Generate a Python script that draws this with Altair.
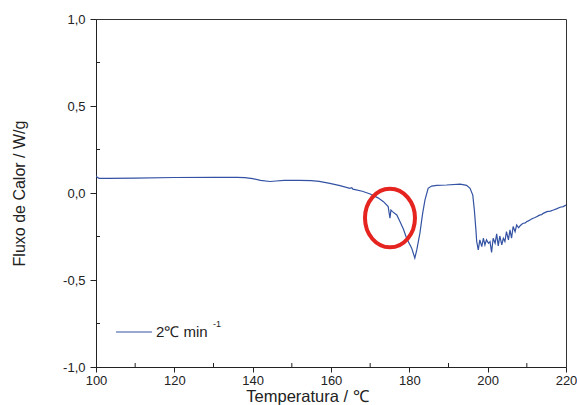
import altair as alt
import pandas as pd

# DSC curve
temperatura = [
    100.0, 100.3, 100.8, 103.0, 110.0, 120.0, 130.0, 136.0, 138.0, 140.0,
    142.0, 144.4, 146.0, 148.0, 152.0, 155.0, 157.0, 159.7, 162.3, 164.8,
    165.3, 165.6, 168.0, 170.0, 172.0, 173.4, 174.6, 175.05, 175.3, 175.7,
    176.8, 177.6, 178.5, 179.3, 180.6, 181.4, 181.9, 182.7, 183.4, 184.0,
    184.8, 185.7, 187.0, 189.5, 193.0, 194.6, 195.5, 196.2, 196.6, 197.0,
    197.2, 197.6, 198.0, 198.5, 198.9, 199.3, 199.7, 200.2, 200.6, 201.0,
    201.4, 201.9, 202.3, 202.7, 203.1, 203.6, 204.0, 204.4, 204.8, 205.3,
    205.7, 206.1, 206.5, 207.0, 207.4, 207.9, 208.3, 208.7, 209.1, 209.6,
    210.0, 210.4, 210.8, 211.2, 211.6, 212.1, 212.5, 213.0, 213.4, 213.8,
    214.2, 215.1, 216.0, 216.8, 217.7, 218.5, 219.3, 220.0,
]
fluxo = [
    0.100, 0.090, 0.084, 0.084, 0.086, 0.089, 0.090, 0.090, 0.088, 0.083,
    0.073, 0.066, 0.069, 0.073, 0.073, 0.071, 0.067, 0.055, 0.042, 0.027,
    0.030, 0.022, 0.010, -0.006, -0.028, -0.050, -0.078, -0.145, -0.098, -0.107,
    -0.126, -0.164, -0.208, -0.260, -0.317, -0.374, -0.327, -0.231, -0.117, -0.040,
    0.027, 0.040, 0.044, 0.046, 0.051, 0.044, 0.027, -0.012, -0.098, -0.212,
    -0.279, -0.327, -0.269, -0.308, -0.260, -0.298, -0.269, -0.289, -0.279, -0.342,
    -0.260, -0.289, -0.235, -0.304, -0.247, -0.298, -0.260, -0.279, -0.222, -0.269,
    -0.212, -0.260, -0.193, -0.222, -0.184, -0.200, -0.188, -0.180, -0.174, -0.172,
    -0.164, -0.160, -0.155, -0.150, -0.145, -0.141, -0.136, -0.130, -0.126, -0.124,
    -0.117, -0.107, -0.104, -0.098, -0.090, -0.082, -0.078, -0.069,
]

x_ticks = [100, 120, 140, 160, 180, 200, 220]
y_ticks = [-1.0, -0.5, 0.0, 0.5, 1.0]
x_minor = [110, 130, 150, 170, 190, 210]
y_minor = [-0.75, -0.25, 0.25, 0.75]

circle_temp = [175.06]
circle_flux = [-0.144]

legend_label = ["2\u2103 min"]
legend_sup = ["-1"]

FONT = "Liberation Sans"
W, H = 470, 348

df = pd.DataFrame({"T": temperatura, "v": fluxo})
xs = alt.Scale(domain=[100, 220], nice=False, zero=False)
ys = alt.Scale(domain=[-1, 1], nice=False, zero=False)

line = alt.Chart(df).mark_line(color="#3352a3", strokeWidth=1.2, clip=True).encode(
    x=alt.X("T:Q", scale=xs, axis=alt.Axis(
        values=x_ticks, format="d", title="Temperatura / \u2103",
        titleX=211, titleY=34, titleBaseline="alphabetic", titleAlign="center",
        titleFontSize=16.5, titleFontWeight="normal", titleFont=FONT, titleColor="#222",
        labelFontSize=13, labelFont=FONT, labelColor="#222", labelPadding=2,
        tickSize=5, tickColor="#222", domainColor="#222", grid=False,
        labelFlush=False, labelOverlap=False)),
    y=alt.Y("v:Q", scale=ys, axis=alt.Axis(
        values=y_ticks,
        labelExpr="replace(replace(format(datum.value, '.1f'), '.', ','), '\u2212', '-')",
        title="Fluxo de Calor / W/g",
        titleX=-77, titleY=H / 2, titleAngle=-90, titleAlign="center", titleBaseline="middle",
        titleFontSize=16, titleFontWeight="normal", titleFont=FONT, titleColor="#222",
        labelFontSize=13, labelFont=FONT, labelColor="#222", labelPadding=5,
        tickSize=6, tickColor="#222", domainColor="#222", grid=False,
        labelFlush=False, labelOverlap=False)),
)

xminor = alt.Chart(pd.DataFrame({"t": x_minor})).mark_rule(color="#222", strokeWidth=1).encode(
    x=alt.X("t:Q", scale=xs), y=alt.value(H), y2=alt.value(H - 4)
)
yminor = alt.Chart(pd.DataFrame({"t": y_minor})).mark_rule(color="#222", strokeWidth=1).encode(
    y=alt.Y("t:Q", scale=ys), x=alt.value(0), x2=alt.value(4)
)

ellipse_path = "M -0.853 0 A 0.853 1 0 1 0 0.853 0 A 0.853 1 0 1 0 -0.853 0 Z"
circle = alt.Chart(pd.DataFrame({"T": circle_temp, "v": circle_flux})).mark_point(
    shape=ellipse_path, size=3434, filled=False, stroke="#e5231f", strokeWidth=4, opacity=1
).encode(x=alt.X("T:Q", scale=xs), y=alt.Y("v:Q", scale=ys))

leg_line = alt.Chart(pd.DataFrame({"a": [0]})).mark_rule(color="#3352a3", strokeWidth=1.2).encode(
    x=alt.value(20), x2=alt.value(56), y=alt.value(313)
)
leg_text = alt.Chart(pd.DataFrame({"label": legend_label})).mark_text(
    align="left", baseline="middle", fontSize=15, font=FONT, color="#222"
).encode(x=alt.value(60), y=alt.value(313), text="label:N")
leg_sup = alt.Chart(pd.DataFrame({"label": legend_sup})).mark_text(
    align="left", baseline="middle", fontSize=9, font=FONT, color="#222"
).encode(x=alt.value(117), y=alt.value(305), text="label:N")

chart = alt.layer(line, xminor, yminor, circle, leg_line, leg_text, leg_sup).properties(
    width=W, height=H,
    autosize=alt.AutoSizeParams(type="none"),
    padding={"left": 96, "top": 19, "right": 11, "bottom": 38},
    background="white",
).configure_view(stroke="#333", strokeWidth=1)

chart.save("out.html", embed_options={"renderer": "svg", "actions": False})
